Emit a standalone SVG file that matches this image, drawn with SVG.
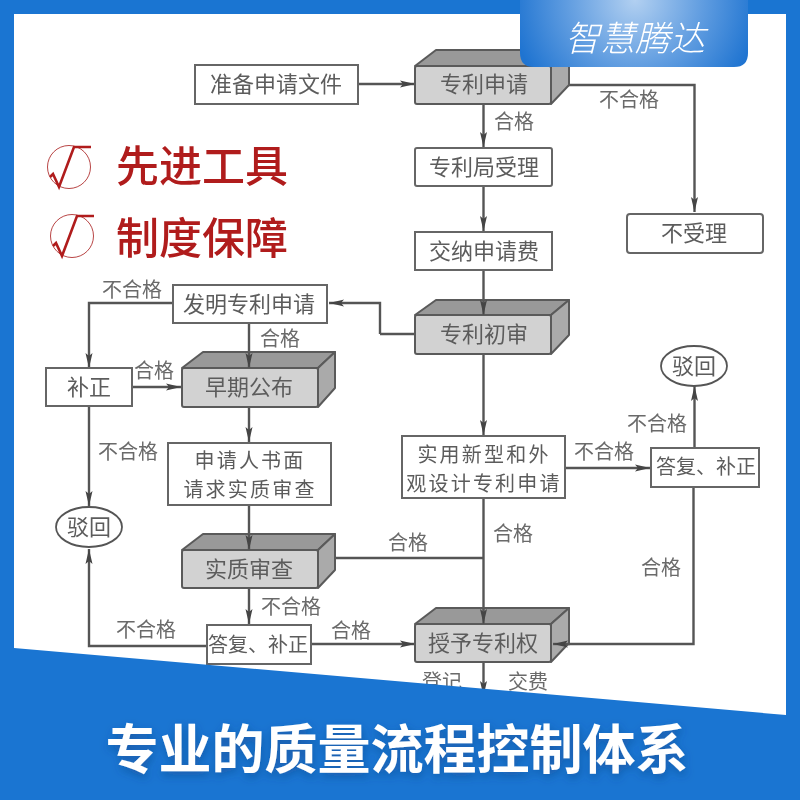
<svg xmlns="http://www.w3.org/2000/svg" width="800" height="800" viewBox="0 0 800 800">
<style>
text{font-family:"Noto Sans CJK SC","Noto Sans",sans-serif;text-anchor:middle;dominant-baseline:central}
.n{font-size:22px;fill:#5c5c5c;font-weight:400;transform:translateY(-2px)}
.n2{font-size:20px;letter-spacing:2.200px}
.l{font-size:20px;fill:#6a6a6a;transform:translateY(-2px)}
.r{fill:#fff;stroke:#666;stroke-width:2}
.f{fill:#d2d2d2;stroke:#5a5a5a;stroke-width:2;stroke-linejoin:round}
.t{fill:#999;stroke:#5a5a5a;stroke-width:2;stroke-linejoin:round}
.s{fill:#aaa;stroke:#5a5a5a;stroke-width:2;stroke-linejoin:round}
.e{fill:#fff;stroke:#555;stroke-width:1.8}
.c{fill:none;stroke:#555;stroke-width:2.4;stroke-linejoin:miter}
.a{marker-end:url(#arr)}
.ring{fill:none;stroke:#b03030;stroke-width:.9}
.chk{fill:none;stroke:#b01c1c;stroke-width:2.600}
.red{font-size:43px;fill:#b01c1c;font-weight:500}
</style>
<defs>
<marker id="arr" markerUnits="userSpaceOnUse" markerWidth="16" markerHeight="8" refX="15" refY="4" orient="auto"><path d="M0 .5L15 4L0 7.5L3 4Z" fill="#444"/></marker>
<radialGradient id="bg" gradientUnits="userSpaceOnUse" cx="635" cy="0" r="125" gradientTransform="translate(0 0)"><stop offset="0" stop-color="#b2d0f1"/><stop offset=".55" stop-color="#5f9ce0"/><stop offset="1" stop-color="#1f74d1"/></radialGradient>
<filter id="soft" x="-5%" y="-5%" width="110%" height="110%"><feGaussianBlur stdDeviation=".45"/></filter>
<filter id="sh" x="-5%" y="-20%" width="110%" height="150%"><feDropShadow dx="1" dy="4" stdDeviation="4" flood-color="#0c3f80" flood-opacity=".5"/></filter>
</defs>
<rect width="800" height="800" fill="#1a75d2"/>
<rect x="14" y="14" width="772" height="720" fill="#fff"/>
<g id="flow" filter="url(#soft)">
<g id="connectors">
<path class="c a" d="M358 84H415"/>
<path class="c a" d="M551 85H694.500V212"/>
<path class="c a" d="M483.500 104V147"/>
<path class="c a" d="M483.500 186V231"/>
<path class="c" d="M483.500 270V302"/>
<path class="c" d="M380 334H415"/>
<path class="c a" d="M380 334V303H329"/>
<path class="c a" d="M483.500 354V435"/>
<path class="c a" d="M565 468H650"/>
<path class="c a" d="M694.500 448V386"/>
<path class="c" d="M335 558H483.500"/>
<path class="c" d="M483.500 498V610"/>
<path class="c" d="M693.500 487V644H560"/>
<path class="c a" d="M173 303H89V368"/>
<path class="c a" d="M132 387H181"/>
<path class="c a" d="M89 406V506"/>
<path class="c a" d="M249 407V442"/>
<path class="c" d="M249 323V355"/>
<path class="c" d="M249 505V536"/>
<path class="c a" d="M249 588V624"/>
<path class="c a" d="M207 646H89V549"/>
<path class="c a" d="M311 644H415"/>
<path class="c a" d="M483.500 662V696"/>
</g>
<g id="n-prepare"><rect class="r" x="195" y="65" width="163" height="39"/><text class="n" x="276" y="84">准备申请文件</text></g>
<g id="n-apply"><path class="t" d="M415 66L436 50H569L551 66Z"/><path class="s" d="M551 66L569 50V85L551 104Z"/><rect class="f" x="415" y="66" width="136" height="38" rx="2"/><text class="n" x="484" y="84">专利申请</text></g>
<g id="n-accept"><rect class="r" x="415" y="148" width="137" height="38" rx="2"/><text class="n" x="484" y="167">专利局受理</text></g>
<g id="n-fee"><rect class="r" x="415" y="232" width="137" height="38"/><text class="n" x="484" y="251">交纳申请费</text></g>
<g id="n-reject1"><rect class="r" x="627" y="214" width="136" height="39" rx="3"/><text class="n" x="694" y="233">不受理</text></g>
<g id="n-prelim"><path class="t" d="M415 315L436 300H569L551 315Z"/><path class="s" d="M551 315L569 300V335L551 354Z"/><rect class="f" x="415" y="315" width="136" height="39" rx="2"/><text class="n" x="484" y="334">专利初审</text></g>
<g id="n-invent"><rect class="r" x="173" y="285" width="154" height="38"/><text class="n" x="249" y="304">发明专利申请</text></g>
<g id="n-utility"><rect class="r" x="402" y="436" width="163" height="62"/><text class="n n2" x="484" y="455">实用新型和外</text><text class="n n2" x="484" y="484">观设计专利申请</text></g>
<g id="n-reply-r"><rect class="r" x="651" y="448" width="108" height="39"/><text class="n" x="706" y="467" style="font-size:20px">答复、补正</text></g>
<g id="n-bohui-r"><ellipse class="e" cx="694" cy="366" rx="33" ry="20"/><text class="n" x="694" y="366">驳回</text></g>
<g id="n-fix"><rect class="r" x="46" y="368" width="86" height="38"/><text class="n" x="89" y="387">补正</text></g>
<g id="n-early"><path class="t" d="M182 368L203 352H335L318 368Z"/><path class="s" d="M318 368L335 352V388L318 407Z"/><rect class="f" x="182" y="368" width="136" height="39" rx="2"/><text class="n" x="249" y="387">早期公布</text></g>
<g id="n-request"><rect class="r" x="168" y="443" width="163" height="62"/><text class="n n2" x="250" y="461">申请人书面</text><text class="n n2" x="250" y="490">请求实质审查</text></g>
<g id="n-bohui-l"><ellipse class="e" cx="89" cy="527" rx="33" ry="20"/><text class="n" x="89" y="527">驳回</text></g>
<g id="n-exam"><path class="t" d="M182 550L203 534H335L318 550Z"/><path class="s" d="M318 550L335 534V570L318 588Z"/><rect class="f" x="182" y="550" width="136" height="38" rx="2"/><text class="n" x="249" y="569">实质审查</text></g>
<g id="n-reply-l"><rect class="r" x="207" y="625" width="104" height="39"/><text class="n" x="258" y="645" style="font-size:20px">答复、补正</text></g>
<g id="n-grant"><path class="t" d="M415 624L436 608H569L551 624Z"/><path class="s" d="M551 624L569 608V643L551 662Z"/><rect class="f" x="415" y="624" width="136" height="38" rx="2"/><text class="n" x="483" y="643">授予专利权</text></g>
<g id="overlay-arrows"><path class="c a" d="M483.500 300V315"/><path class="c a" d="M249 352V368"/><path class="c a" d="M249 534V550"/><path class="c a" d="M483.500 608V624"/><path class="c a" d="M570 644H553"/></g>
<g id="labels">
<text class="l" x="514" y="122">合格</text><text class="l" x="629" y="100">不合格</text>
<text class="l" x="132" y="290">不合格</text><text class="l" x="280" y="339">合格</text>
<text class="l" x="154" y="371">合格</text><text class="l" x="128" y="452">不合格</text>
<text class="l" x="408" y="543">合格</text><text class="l" x="513" y="534">合格</text>
<text class="l" x="604" y="452">不合格</text><text class="l" x="657" y="424">不合格</text>
<text class="l" x="661" y="568">合格</text><text class="l" x="291" y="607">不合格</text>
<text class="l" x="351" y="631">合格</text><text class="l" x="146" y="630">不合格</text>
<text class="l" x="442" y="682">登记</text><text class="l" x="528" y="682">交费</text>
</g>
</g>
<path id="band" d="M14 648L786 715V800H0V648Z" fill="#1a75d2"/>
<path d="M786 0H800V800H786Z" fill="#1a75d2"/>
<g id="badge"><path d="M520 0H748V53Q748 67 734 67H534Q520 67 520 53Z" fill="url(#bg)"/><text x="635" y="35" style="font-size:35px;font-style:italic;font-weight:300;fill:#fff">智慧腾达</text></g>
<g id="claims">
<circle class="ring" cx="69" cy="167" r="21.500"/><path class="chk" d="M50 177L53 174L59 187L74 147H91"/>
<text class="red" x="202" y="163">先进工具</text>
<circle class="ring" cx="72" cy="236" r="21.500"/><path class="chk" d="M53 246L56 243L62 256L77 216H94"/>
<text class="red" x="202" y="235">制度保障</text>
</g>
<text id="title" x="397" y="746" filter="url(#sh)" style="font-size:53px;font-weight:700;fill:#fff">专业的质量流程控制体系</text>
</svg>
